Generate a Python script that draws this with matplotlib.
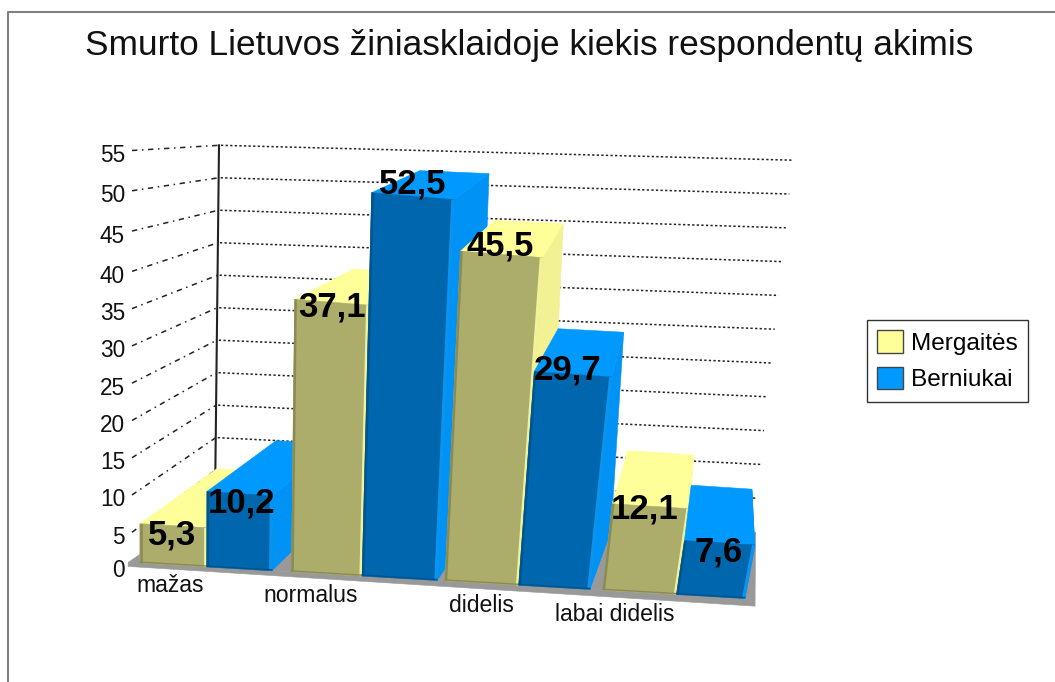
import matplotlib
matplotlib.use("Agg")
import matplotlib.pyplot as plt
from matplotlib.patches import Patch

title = "Smurto Lietuvos žiniasklaidoje kiekis respondentų akimis"
categories = ["mažas", "normalus", "didelis", "labai didelis"]
mergaites = [5.3, 37.1, 45.5, 12.1]
berniukai = [10.2, 52.5, 29.7, 7.6]
y_ticks = [0, 5, 10, 15, 20, 25, 30, 35, 40, 45, 50, 55]
series_names = ["Mergaitės", "Berniukai"]

# bar edges along the floor, 0 = left side, 1 = right side
bar_edges = [
    (0.003, 0.112, 0.218),
    (0.250, 0.365, 0.487),
    (0.500, 0.620, 0.736),
    (0.757, 0.877, 0.988),
]
cat_label_x = [170, 311, 481, 615]
# small hand nudges for the value labels (mergaites, berniukai)
nudge_m = [(0, 0), (1, 9), (0, 0), (-5, -4)]
nudge_b = [(3, 2), (1, -1), (-4, -3), (0, 1)]

yellow = {"front": "#ADAD6B", "top": "#FFFF99", "side": "#F2F294", "dark": "#8A8A55", "light": "#F2F29A"}
blue = {"front": "#0066AD", "top": "#0099FF", "side": "#0092F4", "dark": "#00558F", "light": "#0A94F0"}


def project(u, d, v, sink=0):
    # fake 3D box: u across, d depth (0 front, 1 back wall), v value
    front_x = 138 + 614 * u
    back_x = 215 + 538 * max(u, 0)
    front_y = 563 + 36 * u
    back_y = 503 + 29 * u + sink * u
    front_h = 7.45 - 0.4 * u
    back_h = 6.5 + 0.26 * u
    front_lean = 75 * u * u
    back_lean = 4 + 36 * u * u
    x = front_x + (back_x - front_x) * d
    y = front_y + (back_y - front_y) * d
    h = front_h + (back_h - front_h) * d
    lean = front_lean + (back_lean - front_lean) * d
    return x + lean * v / 55, y - h * v


def poly(ax, pts, color, z):
    xs = [p[0] for p in pts]
    ys = [p[1] for p in pts]
    ax.fill(xs, ys, facecolor=color, edgecolor=color, linewidth=0.4, zorder=z)


def draw_bar(ax, u0, u1, v, c, z):
    fl0, fr0 = project(u0, 0, 0), project(u1, 0, 0)
    fl1, fr1 = project(u0, 0, v), project(u1, 0, v)
    bl1, br1 = project(u0, 1, v, 9), project(u1, 1, v, 9)
    br0 = project(u1, 1, 0, 9)
    poly(ax, [fr0, br0, br1, fr1], c["side"], z)
    poly(ax, [fl1, fr1, br1, bl1], c["top"], z)
    poly(ax, [fl0, fr0, fr1, fl1], c["front"], z)
    ax.plot([fl0[0] + 1, fl1[0] + 1], [fl0[1], fl1[1]], color=c["dark"], lw=1.8, zorder=z, solid_capstyle="butt")
    ax.plot([fr0[0] - 1, fr1[0] - 1], [fr0[1], fr1[1]], color=c["light"], lw=2.5, zorder=z, solid_capstyle="butt")
    ax.plot([fl0[0], fr0[0]], [fl0[1] - 1, fr0[1] - 1], color=c["dark"], lw=1, zorder=z)


def tick_shift(v):
    # front ticks are not evenly spaced in the picture
    return min(10, (55 - v) * 0.6 + 1, 6 + v * 0.8)


fig = plt.figure(figsize=(10.55, 6.82), dpi=100)
plt.rcParams["font.family"] = ["Liberation Sans", "DejaVu Sans"]
ax = fig.add_axes([0, 0, 1, 1])
ax.set_xlim(0, 1055)
ax.set_ylim(682, 0)
ax.axis("off")

# outer frame
ax.plot([8, 8, 1055], [682, 12, 12], color="#808080", lw=1.5)

ax.text(529, 46, title, fontsize=25.4, ha="center", va="center", color="#111111")

# walls
wall_u = -0.013
for v in y_ticks:
    fx, fy = project(wall_u, 0, v)
    bx, by = project(wall_u, 1, v)
    ex, ey = project(1, 1, v)
    fy += tick_shift(v)
    ax.plot([fx + 2, bx], [fy - 3, by], color="#222222", lw=1.1, ls=(0, (3.5, 3, 1, 3)), zorder=1)
    ax.plot([bx + 2, ex], [by, ey], color="#222222", lw=1.1, ls=(0, (1.5, 1.5)), zorder=1)
    ax.text(fx - 5, fy + 2, str(v), fontsize=16.3, ha="right", va="center", color="#111111")

x0, y0 = project(wall_u, 1, 5)
x1, y1 = project(wall_u, 1, 55)
ax.plot([x0, x1], [y0, y1], color="#222222", lw=1.5, zorder=1)

# floor
floor_l = project(-0.016, 0, 0)
floor_r = project(1.005, 0, 0)
poly(ax, [floor_l, floor_r, project(1.005, 1, 0), project(-0.016, 1, 0)], "#999999", 2)
poly(ax, [floor_l, floor_r, (floor_r[0], floor_r[1] + 7), (floor_l[0], floor_l[1] + 4)], "#999999", 2)

# bars, left to right so each one covers the side of the one before
z = 3
for i in range(len(categories)):
    u0, um, u1 = bar_edges[i]
    draw_bar(ax, u0, um, mergaites[i], yellow, z)
    draw_bar(ax, um, u1, berniukai[i], blue, z + 1)
    z += 2

# value labels on the front edge of each bar
for i in range(len(categories)):
    u0, um, u1 = bar_edges[i]
    for a, b, v, n in [(u0, um, mergaites[i], nudge_m[i]), (um, u1, berniukai[i], nudge_b[i])]:
        x, y = project((a + b) / 2, 0, v)
        label = str(v).replace(".", ",")
        ax.text(x - 1 + n[0], y + 12 - 0.45 * v + n[1], label, fontsize=25, fontweight="bold",
                ha="center", va="center", color="black", zorder=20)

for i, name in enumerate(categories):
    ax.text(cat_label_x[i], 586 + 9.6 * i, name, fontsize=16.6, ha="center", va="center",
            color="#111111", zorder=20)

handles = [
    Patch(facecolor=yellow["top"], edgecolor="#444444", label=series_names[0]),
    Patch(facecolor=blue["top"], edgecolor="#444444", label=series_names[1]),
]
leg = ax.legend(handles=handles, loc="upper left", bbox_to_anchor=(867 / 1055, 1 - 320 / 682),
                borderaxespad=0, fontsize=17.6, fancybox=False, framealpha=1, edgecolor="#333333",
                handlelength=1.05, handleheight=1.05, handletextpad=0.33, labelspacing=0.48,
                borderpad=0.42)
leg.set_zorder(30)

fig.savefig("out.png", dpi=100)
